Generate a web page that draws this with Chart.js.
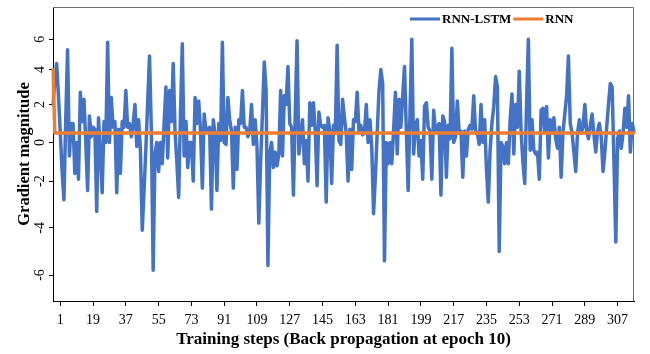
<!DOCTYPE html>
<html>
<head>
<meta charset="utf-8">
<script src="https://cdn.jsdelivr.net/npm/chart.js@4.4.1/dist/chart.umd.min.js"></script>
<style>
  html, body { margin: 0; padding: 0; background: #ffffff; }
  #wrap { width: 650px; height: 354px; }
</style>
</head>
<body>
<div id="wrap"><canvas id="grad" width="650" height="354"></canvas></div>
<script>
// Gradient magnitude per back-propagation step (epoch 10)
const lstmGrad = [
  2.0, 3.4, 4.4, 2.5, 0.5, -1.5, -2.8, 1.2, 5.3, -0.7, 1.0, 1.0, -1.6, 0.0, -1.9, 2.7, 1.1, 2.3, 0.0, -2.4,
  1.4, 0.3, 0.8, 0.7, -3.3, 1.3, -0.5, -2.5, 1.1, 0.0, 5.8, 0.0, 2.4, 0.8, 1.1, -2.5, 0.7, -1.6, 1.1, 0.8,
  2.8, 0.8, 1.0, 0.3, 1.0, 2.0, -0.2, 1.2, -0.4, -4.1, -2.4, -0.3, 2.2, 4.9, 0.6, -5.8, -0.6, 0.0, -1.5, 0.0,
  -1.1, 1.0, 3.0, -0.8, 2.8, 1.1, 4.4, 0.6, -1.0, -2.7, 1.5, 5.7, -0.7, 1.1, -1.3, 0.0, 0.0, -2.0, 2.4, 1.0,
  2.2, 0.6, -2.3, 1.5, 0.6, 0.7, 0.8, -3.2, 1.2, 0.4, -2.4, 1.0, 0.1, 5.8, 0.0, -0.1, 2.4, 1.2, 0.6, -2.3,
  0.8, -1.4, 1.2, 1.0, 2.8, 0.8, 0.8, 0.3, 0.6, 2.0, -0.1, 1.2, -0.2, -3.8, -1.0, 1.5, 4.5, 2.8, -5.6, -0.6,
  0.0, -1.3, -0.5, -1.2, -0.6, 2.8, -0.7, 2.5, 2.0, 4.2, 1.0, 0.8, -2.6, 1.5, 5.9, -0.6, 0.3, 1.2, -1.1, 0.1,
  -2.0, 2.1, 0.9, 2.1, 0.6, -2.2, 1.6, 0.9, 0.8, 0.9, -2.9, 1.3, 0.6, -2.1, 0.9, 0.5, 5.6, 0.1, -0.1, 2.3,
  1.3, 0.5, -2.0, 0.7, -1.4, 1.2, 1.1, 2.7, 0.6, 0.9, 0.4, 0.5, 2.0, 0.0, 1.2, -0.2, -3.4, -1.8, 0.5, 2.8,
  4.0, 3.2, -5.4, 0.0, -1.1, 0.0, -1.1, 0.6, 2.7, -0.6, 2.3, 0.8, 2.5, 4.2, 0.6, -2.4, 1.5, 6.0, -0.6, 0.9,
  1.2, -0.7, 0.1, -1.9, 1.9, 2.1, 0.8, 0.6, -1.9, 1.7, 0.6, 0.8, 1.0, -2.6, 1.4, 1.1, -1.8, 0.9, 0.2, 5.4,
  0.0, 0.3, 2.2, 0.5, 0.6, -1.8, 0.6, -0.7, 0.7, 0.9, 0.7, 2.5, 0.6, 0.5, -0.1, 2.0, 0.0, 1.2, -1.4, -2.9,
  -0.4, 1.0, 1.9, 3.6, 3.0, -5.0, 0.0, -0.2, -1.1, 0.0, -1.1, 1.2, 2.6, -0.6, 2.0, 0.8, 3.9, 0.6, -1.0, -2.1,
  2.0, 6.0, -0.4, 1.2, -0.4, -0.6, -0.5, -1.9, 1.7, 1.8, 0.6, 1.9, -0.8, 1.2, 0.5, 1.3, 0.2, -0.3, 0.8, -1.8,
  0.5, 1.5, 2.5, 4.9, 1.0, 0.5, -0.5, -1.5, 0.5, 1.2, 0.5, 0.8, 2.0, 0.6, 0.2, 0.9, 1.5, 0.4, -0.5, 0.6,
  1.0, 0.3, -1.5, -0.5, 0.8, 2.0, 3.2, 3.0, -1.0, -4.6, 0.2, 0.6, -0.3, 0.5, 1.8, 0.8, 2.5, -0.5, 1.0, 0.6
];

const rnnGrad = [
  4.0, 0.5, 0.5, 0.5, 0.5, 0.5, 0.5, 0.5, 0.5, 0.5, 0.5, 0.5, 0.5, 0.5, 0.5, 0.5, 0.5, 0.5, 0.5, 0.5,
  0.5, 0.5, 0.5, 0.5, 0.5, 0.5, 0.5, 0.5, 0.5, 0.5, 0.5, 0.5, 0.5, 0.5, 0.5, 0.5, 0.5, 0.5, 0.5, 0.5,
  0.5, 0.5, 0.5, 0.5, 0.5, 0.5, 0.5, 0.5, 0.5, 0.5, 0.5, 0.5, 0.5, 0.5, 0.5, 0.5, 0.5, 0.5, 0.5, 0.5,
  0.5, 0.5, 0.5, 0.5, 0.5, 0.5, 0.5, 0.5, 0.5, 0.5, 0.5, 0.5, 0.5, 0.5, 0.5, 0.5, 0.5, 0.5, 0.5, 0.5,
  0.5, 0.5, 0.5, 0.5, 0.5, 0.5, 0.5, 0.5, 0.5, 0.5, 0.5, 0.5, 0.5, 0.5, 0.5, 0.5, 0.5, 0.5, 0.5, 0.5,
  0.5, 0.5, 0.5, 0.5, 0.5, 0.5, 0.5, 0.5, 0.5, 0.5, 0.5, 0.5, 0.5, 0.5, 0.5, 0.5, 0.5, 0.5, 0.5, 0.5,
  0.5, 0.5, 0.5, 0.5, 0.5, 0.5, 0.5, 0.5, 0.5, 0.5, 0.5, 0.5, 0.5, 0.5, 0.5, 0.5, 0.5, 0.5, 0.5, 0.5,
  0.5, 0.5, 0.5, 0.5, 0.5, 0.5, 0.5, 0.5, 0.5, 0.5, 0.5, 0.5, 0.5, 0.5, 0.5, 0.5, 0.5, 0.5, 0.5, 0.5,
  0.5, 0.5, 0.5, 0.5, 0.5, 0.5, 0.5, 0.5, 0.5, 0.5, 0.5, 0.5, 0.5, 0.5, 0.5, 0.5, 0.5, 0.5, 0.5, 0.5,
  0.5, 0.5, 0.5, 0.5, 0.5, 0.5, 0.5, 0.5, 0.5, 0.5, 0.5, 0.5, 0.5, 0.5, 0.5, 0.5, 0.5, 0.5, 0.5, 0.5,
  0.5, 0.5, 0.5, 0.5, 0.5, 0.5, 0.5, 0.5, 0.5, 0.5, 0.5, 0.5, 0.5, 0.5, 0.5, 0.5, 0.5, 0.5, 0.5, 0.5,
  0.5, 0.5, 0.5, 0.5, 0.5, 0.5, 0.5, 0.5, 0.5, 0.5, 0.5, 0.5, 0.5, 0.5, 0.5, 0.5, 0.5, 0.5, 0.5, 0.5,
  0.5, 0.5, 0.5, 0.5, 0.5, 0.5, 0.5, 0.5, 0.5, 0.5, 0.5, 0.5, 0.5, 0.5, 0.5, 0.5, 0.5, 0.5, 0.5, 0.5,
  0.5, 0.5, 0.5, 0.5, 0.5, 0.5, 0.5, 0.5, 0.5, 0.5, 0.5, 0.5, 0.5, 0.5, 0.5, 0.5, 0.5, 0.5, 0.5, 0.5,
  0.5, 0.5, 0.5, 0.5, 0.5, 0.5, 0.5, 0.5, 0.5, 0.5, 0.5, 0.5, 0.5, 0.5, 0.5, 0.5, 0.5, 0.5, 0.5, 0.5,
  0.5, 0.5, 0.5, 0.5, 0.5, 0.5, 0.5, 0.5, 0.5, 0.5, 0.5, 0.5, 0.5, 0.5, 0.5, 0.5, 0.5, 0.5, 0.5, 0.5
];

// Step numbers (first recorded step is -3) and the labelled steps on the x axis
const steps = lstmGrad.map((_, i) => i - 3);
const stepTicks = [1, 19, 37, 55, 73, 91, 109, 127, 145, 163, 181, 199, 217, 235, 253, 271, 289, 307];

// Vertical axis: labelled values and the axis' value -> height fraction profile
const yTicks = [-6, -4, -2, 0, 2, 4, 6];
const Y_MIN = -7.1, Y_MAX = 8.4;
const Y_PROFILE = [
  [-7.1, 0], [-6, 0.0883], [-4, 0.249], [-2, 0.4078], [0, 0.5393],
  [2, 0.6684], [4, 0.7873], [6, 0.8902], [8.4, 1]
];

function toFraction(v) {
  const p = Y_PROFILE;
  if (v <= p[0][0]) return p[0][1] + (v - p[0][0]) * (p[1][1] - p[0][1]) / (p[1][0] - p[0][0]);
  for (let i = 1; i < p.length; i++) {
    if (v <= p[i][0]) {
      const [v0, f0] = p[i - 1], [v1, f1] = p[i];
      return f0 + (v - v0) * (f1 - f0) / (v1 - v0);
    }
  }
  const n = p.length - 1;
  return p[n][1] + (v - p[n][0]) * (p[n][1] - p[n - 1][1]) / (p[n][0] - p[n - 1][0]);
}
function fromFraction(f) {
  const p = Y_PROFILE;
  for (let i = 1; i < p.length; i++) {
    if (f <= p[i][1] || i === p.length - 1) {
      const [v0, f0] = p[i - 1], [v1, f1] = p[i];
      return v0 + (f - f0) * (v1 - v0) / (f1 - f0);
    }
  }
}

class ProfileScale extends Chart.LinearScale {
  getPixelForValue(value) {
    return this.getPixelForDecimal(toFraction(value));
  }
  getValueForPixel(pixel) {
    return fromFraction(this.getDecimalForPixel(pixel));
  }
}
ProfileScale.id = 'profile';
ProfileScale.defaults = {};
Chart.register(ProfileScale);

const SERIF = '"Liberation Serif", "Times New Roman", serif';

// Frame of the plot area (top and right edges)
const plotFrame = {
  id: 'plotFrame',
  beforeDatasetsDraw(chart) {
    const { ctx, chartArea: a } = chart;
    ctx.save();
    ctx.strokeStyle = '#6e6e6e';
    ctx.lineWidth = 1;
    ctx.beginPath();
    ctx.moveTo(a.left, a.top + 0.5);
    ctx.lineTo(a.right - 0.5, a.top + 0.5);
    ctx.lineTo(a.right - 0.5, a.bottom);
    ctx.stroke();
    ctx.restore();
  }
};

// Series key drawn inside the plot, near its top edge
const seriesKey = {
  id: 'seriesKey',
  afterDatasetsDraw(chart, args, opts) {
    const ctx = chart.ctx;
    ctx.save();
    ctx.font = 'bold 13px ' + SERIF;
    ctx.textBaseline = 'middle';
    ctx.textAlign = 'left';
    let x = opts.x;
    const y = opts.y;
    chart.data.datasets.forEach(ds => {
      ctx.strokeStyle = ds.borderColor;
      ctx.lineWidth = 3;
      ctx.beginPath();
      ctx.moveTo(x, y);
      ctx.lineTo(x + 30, y);
      ctx.stroke();
      x += 32;
      ctx.fillStyle = '#000';
      ctx.fillText(ds.label, x, y + 1);
      x += ctx.measureText(ds.label).width + 2;
    });
    ctx.restore();
  }
};

new Chart(document.getElementById('grad'), {
  type: 'line',
  data: {
    labels: steps,
    datasets: [
      {
        label: 'RNN-LSTM',
        data: lstmGrad,
        borderColor: '#4472c4',
        borderWidth: 3.5,
        pointRadius: 0,
        tension: 0,
        borderJoinStyle: 'round',
        borderCapStyle: 'round',
        order: 1
      },
      {
        label: 'RNN',
        data: rnnGrad,
        borderColor: '#ed7d31',
        borderWidth: 3.5,
        pointRadius: 0,
        tension: 0,
        borderJoinStyle: 'round',
        borderCapStyle: 'round',
        order: 0
      }
    ]
  },
  options: {
    responsive: false,
    devicePixelRatio: 1,
    animation: false,
    events: [],
    layout: { padding: { top: 7, right: 16, left: 0, bottom: 0 } },
    plugins: {
      legend: { display: false },
      tooltip: { enabled: false },
      seriesKey: { x: 410, y: 19 }
    },
    scales: {
      x: {
        type: 'category',
        offset: false,
        afterBuildTicks: s => {
          s.ticks = s.ticks.filter(t => stepTicks.includes(steps[t.value]));
        },
        afterFit: s => {
          s.height = 53;
          s.paddingLeft = 0;
          s.paddingRight = 0;
        },
        ticks: {
          autoSkip: false,
          maxRotation: 0,
          minRotation: 0,
          padding: 6,
          color: '#000',
          font: { family: SERIF, size: 14 }
        },
        grid: { drawOnChartArea: false, drawTicks: true, tickLength: 5, color: '#000' },
        border: { display: true, color: '#000', width: 1 },
        title: {
          display: true,
          text: 'Training steps (Back propagation at epoch 10)',
          color: '#000',
          font: { family: SERIF, size: 17, weight: 'bold' },
          padding: { top: 0, bottom: 4 }
        }
      },
      y: {
        type: 'profile',
        min: Y_MIN,
        max: Y_MAX,
        afterBuildTicks: s => { s.ticks = yTicks.map(v => ({ value: v })); },
        afterFit: s => {
          s.width = 53;
          s.paddingTop = 0;
          s.paddingBottom = 0;
        },
        ticks: {
          autoSkip: false,
          minRotation: 90,
          maxRotation: 90,
          crossAlign: 'center',
          padding: 3,
          color: '#000',
          font: { family: SERIF, size: 14 },
          callback: v => String(v)
        },
        grid: { drawOnChartArea: false, drawTicks: true, tickLength: 4, color: '#000' },
        border: { display: true, color: '#000', width: 1 },
        title: {
          display: true,
          text: 'Gradient magnitude',
          color: '#000',
          font: { family: SERIF, size: 16.5, weight: 'bold' },
          padding: { top: 15, bottom: 0 }
        }
      }
    }
  },
  plugins: [plotFrame, seriesKey]
});
</script>
</body>
</html>
